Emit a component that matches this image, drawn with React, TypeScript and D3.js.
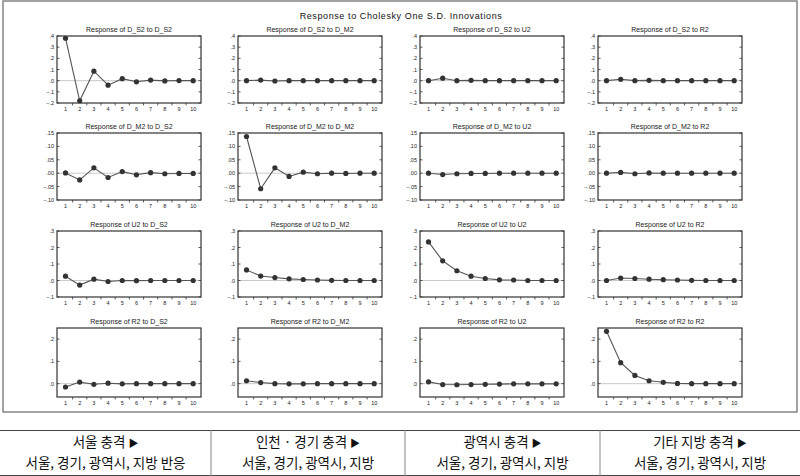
import React from 'react';
import * as d3 from 'd3';

// variable names, in row/column order
const vars = ['D_S2', 'D_M2', 'U2', 'R2'];
const horizons = [1, 2, 3, 4, 5, 6, 7, 8, 9, 10];

// responses of D_S2
const dS2_dS2 = [0.38, -0.18, 0.085, -0.04, 0.018, -0.01, 0.005, -0.002, 0.001, 0.0];
const dS2_dM2 = [0.0, 0.005, -0.003, 0.0, 0.0, 0.0, 0.0, 0.0, 0.0, 0.0];
const dS2_U2 = [0.0, 0.022, 0.0, 0.003, 0.0, 0.0, 0.0, 0.0, 0.0, 0.0];
const dS2_R2 = [0.0, 0.012, 0.0, 0.003, 0.0, 0.0, 0.0, 0.0, 0.0, 0.0];
// responses of D_M2
const dM2_dS2 = [0.001, -0.025, 0.02, -0.016, 0.006, -0.006, 0.002, -0.002, -0.001, -0.001];
const dM2_dM2 = [0.137, -0.058, 0.02, -0.012, 0.004, -0.002, 0.0, -0.001, 0.0, 0.0];
const dM2_U2 = [0.0, -0.005, -0.002, -0.001, -0.001, 0.0, 0.0, 0.0, 0.0, 0.0];
const dM2_R2 = [0.0, 0.003, -0.002, 0.001, 0.0, 0.0, 0.0, 0.0, 0.0, 0.0];
// responses of U2
const u2_dS2 = [0.026, -0.028, 0.008, -0.006, 0.0, -0.001, 0.0, 0.0, 0.0, 0.0];
const u2_dM2 = [0.064, 0.027, 0.018, 0.01, 0.006, 0.003, 0.001, 0.0, 0.0, 0.0];
const u2_U2 = [0.234, 0.119, 0.059, 0.026, 0.012, 0.004, 0.003, 0.0, 0.0, 0.0];
const u2_R2 = [0.0, 0.015, 0.012, 0.008, 0.005, 0.003, 0.001, 0.0, 0.0, 0.0];
// responses of R2
const r2_dS2 = [-0.015, 0.007, -0.003, 0.002, -0.001, 0.0, 0.0, 0.0, 0.0, 0.0];
const r2_dM2 = [0.013, 0.005, 0.0, -0.001, -0.001, 0.0, 0.0, 0.0, 0.0, 0.0];
const r2_U2 = [0.008, -0.004, -0.005, -0.004, -0.003, -0.002, -0.001, -0.001, -0.001, -0.001];
const r2_R2 = [0.235, 0.094, 0.037, 0.013, 0.006, 0.001, 0.0, 0.0, 0.0, 0.0];

const responses = [
  [dS2_dS2, dS2_dM2, dS2_U2, dS2_R2],
  [dM2_dS2, dM2_dM2, dM2_U2, dM2_R2],
  [u2_dS2, u2_dM2, u2_U2, u2_R2],
  [r2_dS2, r2_dM2, r2_U2, r2_R2],
];

// y axis per row
const rowDomains = [[-0.2, 0.4], [-0.1, 0.15], [-0.1, 0.3], [-0.06, 0.25]];
const rowTicks = [
  [-0.2, -0.1, 0, 0.1, 0.2, 0.3, 0.4],
  [-0.1, -0.05, 0, 0.05, 0.1, 0.15],
  [-0.1, 0, 0.1, 0.2, 0.3],
  [0, 0.1, 0.2],
];
const rowDecimals = [1, 2, 1, 1];

// table under the chart
const tableHeads = ['서울 충격', '인천 · 경기 충격', '광역시 충격', '기타 지방 충격'];
const tableLines = ['서울, 경기, 광역시, 지방 반응', '서울, 경기, 광역시, 지방', '서울, 경기, 광역시, 지방', '서울, 경기, 광역시, 지방'];

const colX = [57, 238, 420, 598];
const rowY = [36, 133, 231, 328];
const rowH = [67, 67, 66, 69];
const plotW = 144;
const tableCols = [0, 211, 405, 600, 800];

const fmtTick = (v: number, dec: number) => {
  const s = d3.format(`.${dec}f`)(v);
  return s.replace('0.', '.');
};

const Panel = ({ r, c }: { r: number; c: number }) => {
  const x0 = colX[c];
  const y0 = rowY[r];
  const h = rowH[r];
  const values = responses[r][c];
  const x = d3.scaleLinear().domain([0.4, 10.55]).range([x0, x0 + plotW]);
  const y = d3.scaleLinear().domain(rowDomains[r]).range([y0 + h, y0]);
  const pts = horizons.map((hz, i) => [x(hz), y(values[i])] as [number, number]);
  const line = d3.line()(pts);

  return (
    <g>
      <text x={x0 + plotW / 2} y={y0 - 4} fontSize="7" textAnchor="middle" fill="#222">
        {`Response of ${vars[r]} to ${vars[c]}`}
      </text>
      {/* zero line */}
      <line x1={x0} x2={x0 + plotW} y1={y(0)} y2={y(0)} stroke="#bbb" strokeWidth="0.8" />
      {/* y ticks */}
      {rowTicks[r].map(t => (
        <g key={t}>
          <line x1={x0} x2={x0 + 2.5} y1={y(t)} y2={y(t)} stroke="#333" strokeWidth="0.8" />
          <line x1={x0 + plotW - 2.5} x2={x0 + plotW} y1={y(t)} y2={y(t)} stroke="#333" strokeWidth="0.8" />
          <text x={x0 - 3} y={y(t) + 2} fontSize="5.5" textAnchor="end" fill="#222">
            {fmtTick(t, rowDecimals[r])}
          </text>
        </g>
      ))}
      {/* x ticks */}
      {horizons.map(hz => (
        <g key={hz}>
          <text x={x(hz)} y={y0 + h + 8} fontSize="5.5" textAnchor="middle" fill="#222">{hz}</text>
          {hz < 10 && (
            <line x1={x(hz + 0.5)} x2={x(hz + 0.5)} y1={y0 + h} y2={y0 + h + 2.5} stroke="#333" strokeWidth="0.8" />
          )}
        </g>
      ))}
      <path d={line || ''} fill="none" stroke="#555" strokeWidth="1.1" />
      {pts.map((p, i) => (
        <circle key={i} cx={p[0]} cy={p[1]} r="2.6" fill="#333" />
      ))}
      <rect x={x0} y={y0} width={plotW} height={h} fill="none" stroke="#333" strokeWidth="1.2" />
    </g>
  );
};

export default function App() {
  return (
    <div style={{ position: 'absolute', left: 0, top: 0 }}>
      <svg width="800" height="476" style={{ display: 'block', fontFamily: 'Arial, "Liberation Sans", sans-serif' }}>
        <rect x="0" y="0" width="800" height="476" fill="#fff" />
        <rect x="3" y="1" width="794" height="411" fill="none" stroke="#666" strokeWidth="1.2" />
        <text x="401" y="19" fontSize="9" textAnchor="middle" letterSpacing="0.6" fill="#111">
          Response to Cholesky One S.D. Innovations
        </text>
        {vars.map((_, r) => vars.map((_, c) => <Panel key={`${r}-${c}`} r={r} c={c} />))}

        {/* table */}
        <line x1="0" x2="800" y1="430.5" y2="430.5" stroke="#444" strokeWidth="1" />
        <line x1="0" x2="800" y1="475.5" y2="475.5" stroke="#444" strokeWidth="1" />
        {tableCols.slice(1, 4).map(cx => (
          <line key={cx} x1={cx} x2={cx} y1="430" y2="476" stroke="#888" strokeWidth="1" />
        ))}
        {tableHeads.map((t, i) => {
          const cx = (tableCols[i] + tableCols[i + 1]) / 2;
          return (
            <g key={t} fontFamily='"Noto Sans CJK KR", sans-serif' fontSize="13.5" fill="#111" textAnchor="middle">
              <text x={cx} y="447">{t} <tspan fontSize="10">▶</tspan></text>
              <text x={cx} y="468">{tableLines[i]}</text>
            </g>
          );
        })}
      </svg>
    </div>
  );
}
